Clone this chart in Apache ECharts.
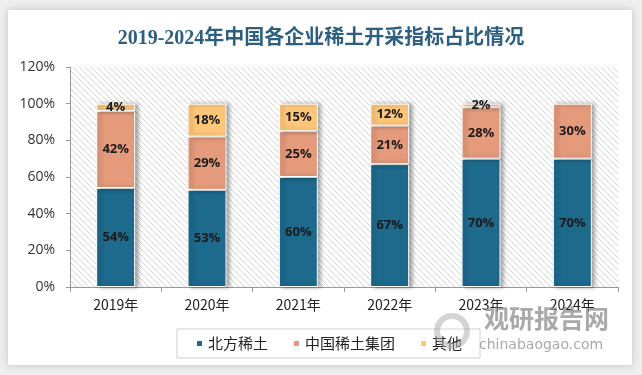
<!DOCTYPE html>
<html>
<head>
<meta charset="utf-8">
<script src="https://cdn.jsdelivr.net/npm/echarts@6/dist/echarts.min.js"></script>
<style>
    html, body { margin: 0; padding: 0; background: #eeeeee; }
    #J_chart { width: 642px; height: 375px; }
</style>
</head>
<body>
<div id="J_chart"></div>
<script>
const YEARS = ['2019年', '2020年', '2021年', '2022年', '2023年', '2024年'];
const NAMES = ['北方稀土', '中国稀土集团', '其他'];
const BEIFANG = [54, 53, 60, 67, 70, 70];
const ZHONGXI = [42, 29, 25, 21, 28, 30];
const OTHERS = [4, 18, 15, 12, 2, 0];
const COLORS = ['#1d6a8d', '#e49a7b', '#fdc679'];

// 斜线底纹
function hatch() {
    let c = document.createElement('canvas');
    c.width = 6;
    c.height = 6;
    let ctx = c.getContext('2d');
    ctx.fillStyle = '#ffffff';
    ctx.fillRect(0, 0, 6, 6);
    ctx.strokeStyle = '#d6d6d6';
    ctx.lineWidth = 1;
    ctx.beginPath();
    ctx.moveTo(-1, -1); ctx.lineTo(7, 7);
    ctx.moveTo(-1, 5); ctx.lineTo(1, 7);
    ctx.moveTo(5, -1); ctx.lineTo(7, 1);
    ctx.stroke();
    return c;
}

function barSeries(name, data, color) {
    return {
        name: name,
        type: 'bar',
        stack: 'total',
        barWidth: 39,
        // 0 的段不画，免得留一条白边
        data: data.map(v => v || '-'),
        itemStyle: {
            color: color,
            borderColor: '#ffffff',
            borderWidth: 1,
            shadowColor: 'rgba(0, 0, 0, 0.35)',
            shadowBlur: 4,
            shadowOffsetX: 3,
            shadowOffsetY: 0
        },
        label: {
            show: true,
            position: 'inside',
            color: '#1a1a1a',
            fontSize: 13,
            fontWeight: 'bold',
            fontFamily: 'Open Sans',
            formatter: p => p.value + '%'
        }
    };
}

let options = {
    backgroundColor: '#eeeeee',
    animation: false,
    title: {
        text: '2019-2024年中国各企业稀土开采指标占比情况',
        left: 'center',
        top: 24,
        textStyle: {
            fontSize: 20,
            fontWeight: 'bold',
            color: '#2c5f80',
            fontFamily: 'Liberation Serif, Noto Sans CJK SC'
        }
    },
    graphic: [{
        type: 'rect',
        z: -10,
        silent: true,
        shape: {x: 8, y: 10, width: 624, height: 355},
        style: {
            fill: '#ffffff',
            shadowColor: 'rgba(0, 0, 0, 0.18)',
            shadowBlur: 8
        }
    }, {
        type: 'text',
        z: 100,
        silent: true,
        left: 484,
        top: 306,
        style: {
            text: '观研报告网',
            fontSize: 25,
            fontWeight: 'bold',
            fill: 'rgba(140, 140, 140, 0.75)',
            fontFamily: 'Noto Sans CJK SC'
        }
    }, {
        type: 'text',
        z: 100,
        silent: true,
        left: 479,
        top: 338,
        style: {
            text: 'chinabaogao.com',
            fontSize: 14,
            fill: 'rgba(140, 140, 140, 0.75)',
            fontFamily: 'DejaVu Sans'
        }
    }, {
        type: 'circle',
        z: 100,
        silent: true,
        shape: {cx: 452, cy: 331, r: 15},
        style: {
            fill: 'none',
            stroke: 'rgba(170, 170, 170, 0.5)',
            lineWidth: 6
        }
    }],
    legend: {
        data: NAMES,
        left: 177,
        top: 329,
        width: 300,
        padding: [7, 18, 7, 18],
        itemGap: 24,
        itemWidth: 7,
        itemHeight: 7,
        icon: 'rect',
        borderColor: '#d0d0d0',
        borderWidth: 1,
        textStyle: {
            fontSize: 15,
            color: '#222',
            fontFamily: 'Noto Sans CJK SC'
        }
    },
    grid: {
        left: 70,
        right: 24,
        top: 67,
        bottom: 88,
        show: true,
        borderWidth: 0,
        backgroundColor: {image: hatch(), repeat: 'repeat'}
    },
    xAxis: {
        type: 'category',
        data: YEARS,
        axisLine: {lineStyle: {color: '#999'}},
        axisTick: {show: true, length: 5, lineStyle: {color: '#999'}},
        axisLabel: {
            color: '#222',
            fontSize: 14,
            margin: 11,
            fontFamily: 'Noto Sans CJK SC'
        }
    },
    yAxis: {
        type: 'value',
        min: 0,
        max: 120,
        interval: 20,
        axisLine: {show: true, lineStyle: {color: '#999'}},
        axisTick: {show: true, length: 4, lineStyle: {color: '#999'}},
        splitLine: {show: false},
        axisLabel: {
            color: '#333',
            fontSize: 14,
            margin: 15,
            fontFamily: 'Open Sans',
            formatter: '{value}%'
        }
    },
    series: [
        barSeries(NAMES[0], BEIFANG, COLORS[0]),
        barSeries(NAMES[1], ZHONGXI, COLORS[1]),
        barSeries(NAMES[2], OTHERS, COLORS[2])
    ]
};

let chart = echarts.init(document.getElementById('J_chart'));
chart.setOption(options);
</script>
</body>
</html>
